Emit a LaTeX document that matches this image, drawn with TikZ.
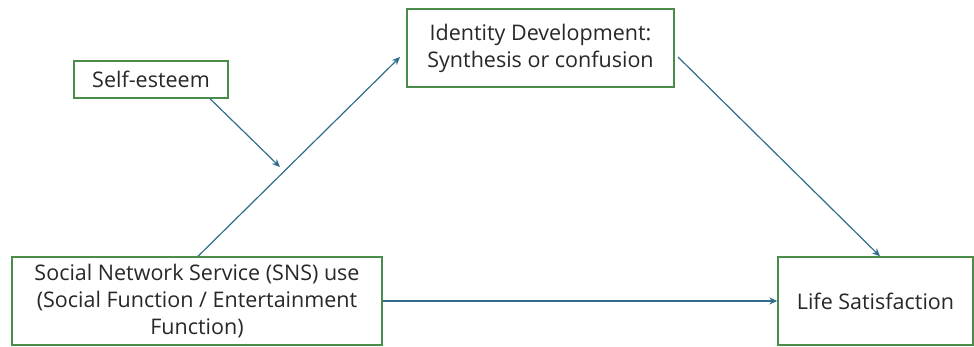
\documentclass[tikz,border=0pt]{standalone}
\usepackage{fontspec}
\setmainfont{Open Sans}
\usetikzlibrary{arrows.meta}
\definecolor{boxgreen}{RGB}{74,140,74}
\definecolor{arrowblue}{RGB}{46,110,140}
\definecolor{txt}{RGB}{40,40,40}
\begin{document}
\begin{tikzpicture}[x=1pt,y=-1pt,
  box/.style={draw=boxgreen,line width=1.4pt,fill=white,text=txt,align=center,inner sep=0pt,font=\fontsize{21.5}{27}\selectfont},
  conn/.style={draw=arrowblue,line width=1.2pt,-{Stealth[length=8pt,width=7pt]}}]
\useasboundingbox (0,0) rectangle (974,347);
\node[box,minimum width=370pt,minimum height=88pt] (sns) at (197,301) {Social Network Service (SNS) use\\(Social Function / Entertainment\\Function)};
\node[box,minimum width=267pt,minimum height=78pt] (id) at (540.5,48) {Identity Development:\\Synthesis or confusion};
\node[box,minimum width=154pt,minimum height=37pt] (se) at (151,79.5) {Self-esteem};
\node[box,minimum width=195pt,minimum height=88pt] (ls) at (875.5,301) {Life Satisfaction};
\coordinate (a1) at (198,257);
\coordinate (a2) at (400,57);
\coordinate (m) at (280,167);
\coordinate (b1) at (678,57);
\coordinate (b2) at (880,257);
\draw[conn] (sns.north -| a1) -- (a2);
\draw[conn] (se.south -| 210,0) -- (m);
\draw[conn] (b1) -- (ls.north -| b2);
\draw[conn] (sns.east) -- (ls.west);
\end{tikzpicture}
\end{document}
